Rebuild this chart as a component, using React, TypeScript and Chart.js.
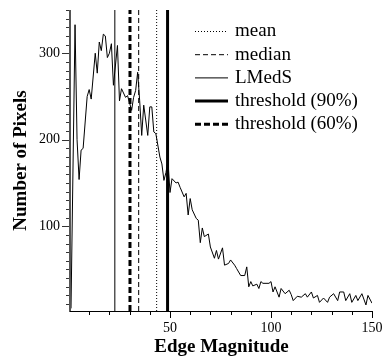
import { useEffect, useRef } from 'react';
import { Chart, registerables } from 'chart.js';

Chart.register(...registerables);

// ---- data ----
const edgeMagnitude = [1, 3, 4, 5, 6, 7, 9, 10, 11, 13, 14, 15, 16, 17, 18, 19, 20, 21, 22, 24, 25, 26, 28, 29, 31, 32, 33, 34, 35, 36, 37, 39, 40, 41, 42, 43, 45, 46, 47, 48, 49, 50, 51, 53, 54, 55, 57, 58, 59, 60, 61, 63, 64, 65, 66, 67, 69, 70, 72, 73, 74, 76, 77, 79, 80, 82, 83, 85, 87, 88, 89, 90, 91, 93, 94, 95, 96, 99, 100, 101, 102, 104, 105, 107, 109, 110, 111, 113, 115, 117, 118, 120, 121, 123, 124, 126, 128, 129, 131, 133, 134, 136, 137, 139, 140, 142, 143, 145, 147, 148, 150];
const pixelCount = [5, 333, 200, 154, 188, 190, 250, 258, 247, 300, 277, 313, 303, 322, 320, 295, 300, 311, 263, 309, 245, 259, 249, 251, 234, 249, 257, 278, 245, 205, 240, 205, 238, 238, 209, 207, 180, 172, 153, 162, 176, 139, 155, 150, 151, 145, 134, 138, 113, 132, 119, 109, 107, 81, 98, 88, 91, 76, 63, 72, 62, 75, 55, 57, 61, 55, 51, 43, 43, 53, 30, 36, 31, 33, 28, 36, 34, 34, 36, 24, 30, 18, 28, 22, 26, 21, 14, 19, 18, 22, 18, 24, 17, 20, 12, 17, 12, 18, 22, 14, 24, 24, 14, 22, 12, 20, 14, 22, 9, 20, 11];

const statNames = ['mean', 'median', 'LMedS', 'threshold (90%)', 'threshold (60%)'];
const statValues = [43.4, 34.5, 22.7, 48.8, 30.2];

const xTickLabels = [50, 100, 150];
const yTickLabels = [100, 200, 300];

const X_MIN = 1;
const X_MAX = 150;
const Y_MIN = 2;
const Y_MAX = 350;

// ---- styles ----
const statStyles = [
  { width: 1, dash: [1, 2] },
  { width: 1, dash: [5, 3] },
  { width: 1, dash: [] as number[] },
  { width: 3, dash: [] as number[] },
  { width: 3, dash: [6, 3] },
];

const SERIF = '"Liberation Serif", "Times New Roman", serif';

const axesPlugin = {
  id: 'axesPlugin',
  afterDraw(chart: any) {
    const { ctx, chartArea } = chart;
    const xs = chart.scales.x;
    const ys = chart.scales.y;
    ctx.save();
    // y axis line
    ctx.strokeStyle = '#555';
    ctx.lineWidth = 2;
    ctx.beginPath();
    ctx.moveTo(chartArea.left - 1, chartArea.top);
    ctx.lineTo(chartArea.left - 1, chartArea.bottom + 1);
    ctx.stroke();
    // x axis line
    ctx.strokeStyle = '#000';
    ctx.lineWidth = 1;
    ctx.beginPath();
    ctx.moveTo(chartArea.left - 1, chartArea.bottom + 0.5);
    ctx.lineTo(chartArea.right, chartArea.bottom + 0.5);
    ctx.stroke();
    // y ticks
    ctx.strokeStyle = '#333';
    for (let v = 10; v <= Y_MAX; v += 10) {
      const y = Math.round(ys.getPixelForValue(v)) + 0.5;
      const major = v % 100 === 0;
      ctx.beginPath();
      ctx.moveTo(chartArea.left - 2, y);
      ctx.lineTo(chartArea.left - (major ? 9 : 5), y);
      ctx.stroke();
    }
    // x ticks
    ctx.strokeStyle = '#000';
    for (let v = 10; v <= X_MAX; v += 10) {
      const x = Math.round(xs.getPixelForValue(v)) + 0.5;
      const major = v % 50 === 0;
      ctx.beginPath();
      ctx.moveTo(x, chartArea.bottom);
      ctx.lineTo(x, chartArea.bottom + (major ? 7 : 4));
      ctx.stroke();
    }
    // tick labels
    ctx.fillStyle = '#000';
    ctx.font = `14px ${SERIF}`;
    ctx.textAlign = 'right';
    ctx.textBaseline = 'middle';
    yTickLabels.forEach((v) => {
      ctx.fillText(String(v), chartArea.left - 11, ys.getPixelForValue(v));
    });
    ctx.textAlign = 'center';
    xTickLabels.forEach((v) => {
      ctx.fillText(String(v), xs.getPixelForValue(v), chartArea.bottom + 17);
    });
    // titles
    ctx.font = `bold 19px ${SERIF}`;
    ctx.fillText('Edge Magnitude', (chartArea.left + chartArea.right) / 2, 347);
    ctx.save();
    ctx.translate(21, (chartArea.top + chartArea.bottom) / 2);
    ctx.rotate(-Math.PI / 2);
    ctx.fillText('Number of Pixels', 0, 0);
    ctx.restore();
    // legend
    ctx.font = `19px ${SERIF}`;
    ctx.textAlign = 'left';
    statNames.forEach((name, i) => {
      const y = 31.5 + i * 23.2;
      const st = statStyles[i];
      ctx.strokeStyle = '#000';
      ctx.lineWidth = st.width;
      ctx.setLineDash(st.dash);
      ctx.beginPath();
      ctx.moveTo(195, y);
      ctx.lineTo(228, y);
      ctx.stroke();
      ctx.setLineDash([]);
      ctx.fillText(name, 235, y);
    });
    ctx.restore();
  },
};

export default function App() {
  const ref = useRef<HTMLCanvasElement | null>(null);
  useEffect(() => {
    document.body.style.margin = '0';
    const canvas = ref.current;
    if (!canvas) return;
    const chart = new Chart(canvas, {
      type: 'line',
      data: {
        datasets: [
          {
            label: 'histogram',
            data: edgeMagnitude.map((x, i) => ({ x, y: pixelCount[i] })),
            borderColor: '#000',
            borderWidth: 1,
            pointRadius: 0,
            tension: 0,
          },
          ...statNames.map((name, i) => ({
            label: name,
            data: [
              { x: statValues[i], y: Y_MIN },
              { x: statValues[i], y: Y_MAX },
            ],
            borderColor: '#000',
            borderWidth: statStyles[i].width,
            borderDash: statStyles[i].dash,
            borderCapStyle: 'butt' as const,
            pointRadius: 0,
          })),
        ],
      },
      options: {
        animation: false,
        responsive: false,
        layout: { padding: { left: 71, right: 12, top: 10, bottom: 47 } },
        scales: {
          x: { type: 'linear', min: X_MIN, max: X_MAX, display: false },
          y: { type: 'linear', min: Y_MIN, max: Y_MAX, display: false },
        },
        plugins: { legend: { display: false }, tooltip: { enabled: false } },
      },
      plugins: [axesPlugin],
    } as any);
    return () => chart.destroy();
  }, []);
  return <canvas ref={ref} width={384} height={358} style={{ display: 'block' }} />;
}
